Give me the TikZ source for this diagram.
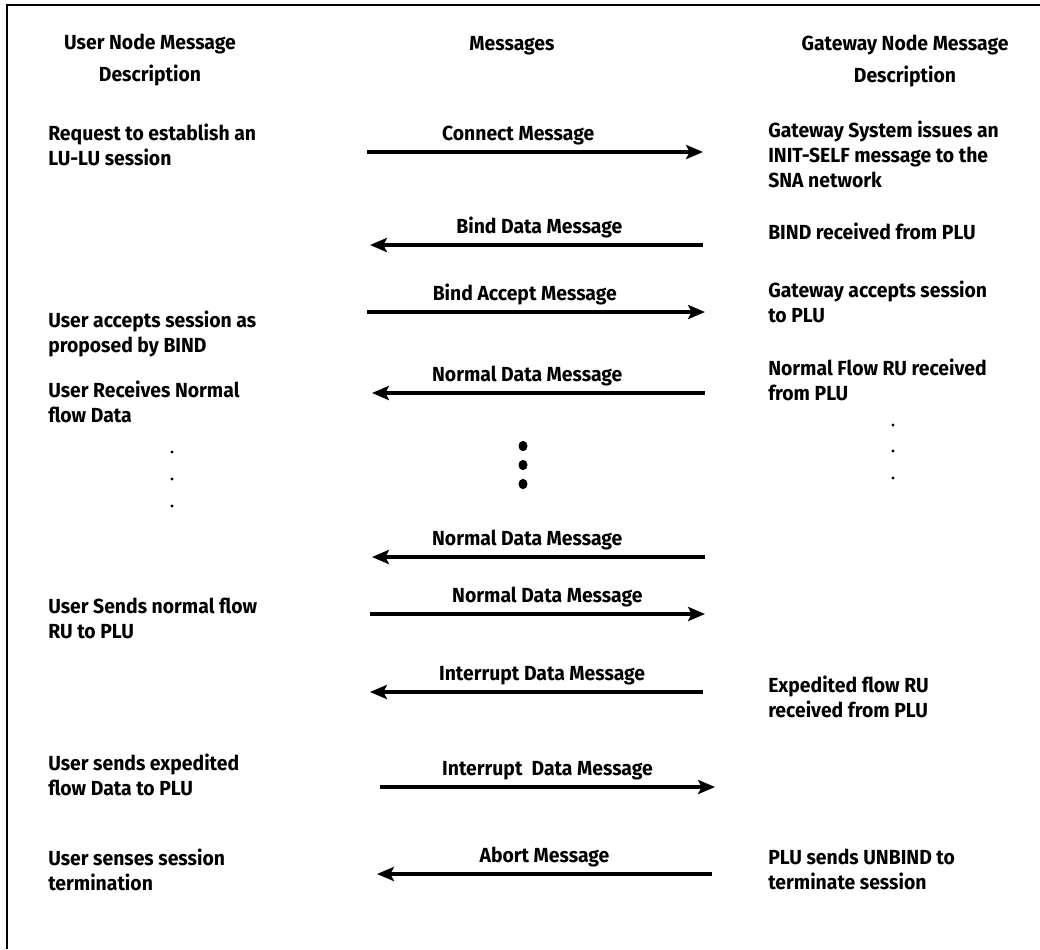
\documentclass[tikz,border=0pt]{standalone}
\usepackage{fontspec}
\setmainfont{Fira Sans}[FakeStretch=0.95]
\usetikzlibrary{arrows.meta, positioning}

\begin{document}
\begin{tikzpicture}[x=0.025cm, y=-0.025cm,
	coltext/.style={align=left, anchor=north west, inner sep=0pt, font=\fontsize{14.5}{17.8}\selectfont\bfseries},
	headtext/.style={align=center, inner sep=0pt, font=\fontsize{14.5}{23.4}\selectfont\bfseries},
	msgarrow/.style={line width=2.5pt, -{Stealth[length=12pt, width=10pt, inset=2.5pt]}},
	msglabel/.style={above=4pt, inner sep=0pt, font=\fontsize{14.5}{17}\selectfont\bfseries}]
	\useasboundingbox (0,0) rectangle (1040,949);
	\draw[line width=1pt] (7,949) -- (7,5) -- (1040,5);

	% column heads
	\node (userhead) [headtext] at (150,60) {User Node Message\\Description};
	\node (msghead) [headtext] at (512,46) {Messages};
	\node (gwhead) [headtext] at (905,61) {Gateway Node Message\\Description};

	% user node side
	\node (usrreq) [coltext] at (48,124) {Request to establish an\\LU-LU session};
	\node (usraccept) [coltext] at (48,311) {User accepts session as\\proposed by BIND};
	\node (usrrecv) [coltext] at (48,381) {User Receives Normal\\flow Data};
	\node (usrsend) [coltext] at (48,598) {User Sends normal flow\\RU to PLU};
	\node (usrexp) [coltext] at (48,754) {User sends expedited\\flow Data to PLU};
	\node (usrterm) [coltext] at (48,849) {User senses session\\termination};
	\foreach \y in {452,479,506}
		\fill (172,\y) circle [radius=1.2pt];

	% gateway node side
	\node (gwinit) [coltext] at (768,121) {Gateway System issues an\\INIT-SELF message to the\\SNA network};
	\node (gwbind) [coltext] at (768,223) {BIND received from PLU};
	\node (gwaccept) [coltext] at (768,281) {Gateway accepts session\\to PLU};
	\node (gwnormal) [coltext] at (768,359) {Normal Flow RU received\\from PLU};
	\node (gwexp) [coltext] at (768,676) {Expedited flow RU\\received from PLU};
	\node (gwunbind) [coltext] at (768,849) {PLU sends UNBIND to\\terminate session};
	\foreach \y in {425,451,478}
		\fill (893,\y) circle [radius=1.2pt];

	% message ends
	\coordinate (conA) at (367,152);  \coordinate (conB) at (703,152);
	\coordinate (bindA) at (370,245); \coordinate (bindB) at (703,245);
	\coordinate (accA) at (367,312);  \coordinate (accB) at (705,312);
	\coordinate (nrmA) at (372,393);  \coordinate (nrmB) at (705,393);
	\coordinate (nrmtwoA) at (372,557); \coordinate (nrmtwoB) at (705,557);
	\coordinate (nrmthreeA) at (370,614); \coordinate (nrmthreeB) at (705,614);
	\coordinate (intA) at (370,692);  \coordinate (intB) at (703,692);
	\coordinate (inttwoA) at (380,787); \coordinate (inttwoB) at (715,787);
	\coordinate (abtA) at (377,874);  \coordinate (abtB) at (712,874);

	\path[draw, msgarrow] (conA) -- node (conlbl) [msglabel, xshift=-12pt] {Connect Message} (conB);
	\path[draw, msgarrow] (bindB) -- node (bindlbl) [msglabel, xshift=2pt] {Bind Data Message} (bindA);
	\path[draw, msgarrow] (accA) -- node (acclbl) [msglabel, xshift=-8pt] {Bind Accept Message} (accB);
	\path[draw, msgarrow] (nrmB) -- node (nrmlbl) [msglabel, xshift=-8pt] {Normal Data Message} (nrmA);
	\foreach \y in {446,465,484}
		\fill (523,\y) ellipse [x radius=3.2pt, y radius=3.7pt];
	\path[draw, msgarrow] (nrmtwoB) -- node (nrmtwolbl) [msglabel, xshift=-8pt] {Normal Data Message} (nrmtwoA);
	\path[draw, msgarrow] (nrmthreeA) -- node (nrmthreelbl) [msglabel, xshift=7pt] {Normal Data Message} (nrmthreeB);
	\path[draw, msgarrow] (intB) -- node (intlbl) [msglabel, xshift=4pt] {Interrupt Data Message} (intA);
	\path[draw, msgarrow] (inttwoA) -- node (inttwolbl) [msglabel] {Interrupt\ \ Data Message} (inttwoB);
	\path[draw, msgarrow] (abtB) -- node (abtlbl) [msglabel] {Abort Message} (abtA);
\end{tikzpicture}
\end{document}
